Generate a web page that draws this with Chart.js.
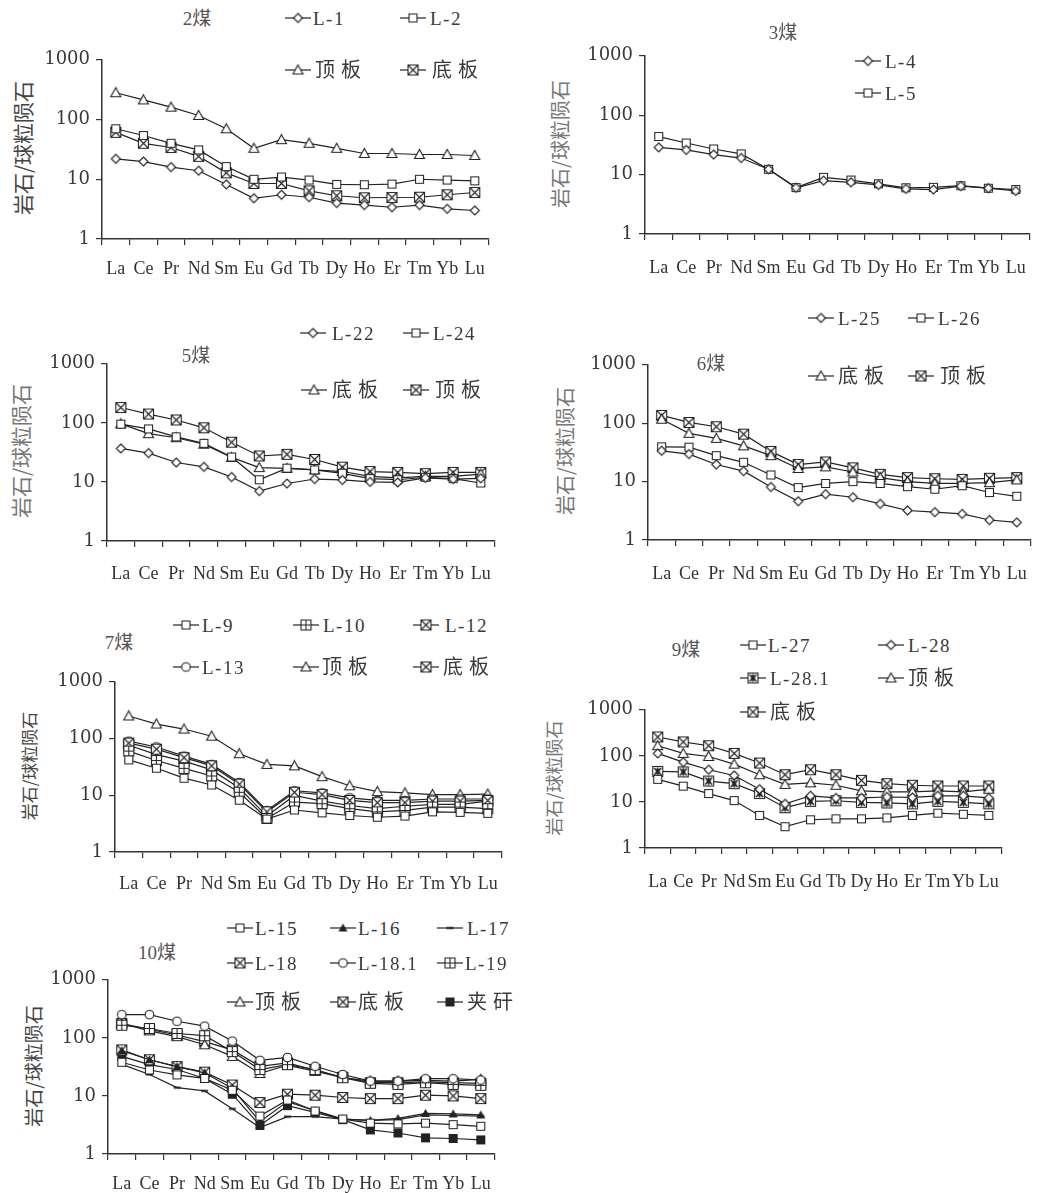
<!DOCTYPE html>
<html>
<head>
<meta charset="utf-8">
<script src="https://cdn.jsdelivr.net/npm/chart.js@4.4.1/dist/chart.umd.min.js"></script>
<style>
  body { margin: 0; background: #fff; }
  #fig { position: relative; width: 1043px; height: 1193px; overflow: hidden; }
  #fig canvas { position: absolute; }
  .t { position: absolute; white-space: nowrap; color: #3a3a3a; font-family: "Liberation Serif", "Noto Sans CJK SC", serif; line-height: 1; }
  .ytitle { position: absolute; white-space: nowrap; color: #555; font-family: "Noto Sans CJK SC", sans-serif; line-height: 1; transform: translate(-50%, -50%) rotate(-90deg); }
</style>
</head>
<body>
<div id="fig"></div>
<script>
const ree = ["La", "Ce", "Pr", "Nd", "Sm", "Eu", "Gd", "Tb", "Dy", "Ho", "Er", "Tm", "Yb", "Lu"];
const yTicks = [1, 10, 100, 1000];

// 2煤
const coal2_L1    = [22, 19.8, 16, 13.9, 8.2, 4.8, 5.5, 5.0, 4.0, 3.7, 3.4, 3.7, 3.2, 3.0];
const coal2_L2    = [70, 54, 40, 31, 16.3, 10, 10.9, 9.7, 8.2, 8.1, 8.3, 10, 9.7, 9.4];
const coal2_roof  = [281, 213, 161, 117, 70, 33, 46, 40, 33, 27, 27, 26, 26, 25];
const coal2_floor = [61, 40, 34, 24.2, 12.8, 8.5, 8.5, 6.4, 5.3, 4.9, 4.95, 5.0, 5.5, 6.0];
// 3煤
const coal3_L4 = [28.7, 26, 21.7, 19, 12.3, 6.0, 7.9, 7.4, 6.7, 5.75, 5.6, 6.4, 5.9, 5.3];
const coal3_L5 = [43.7, 34, 27, 22.3, 12.3, 6.05, 9.0, 8.1, 7.0, 6.0, 6.1, 6.5, 5.9, 5.6];
// 5煤
const coal5_L22   = [36.9, 30.8, 21.3, 18, 12.1, 7.0, 9.4, 11.2, 10.8, 10, 9.8, 11.7, 11.2, 11.5];
const coal5_L24   = [95, 79, 58, 45, 26.4, 10.9, 17.1, 16, 14, 11.4, 10.9, 12, 11.4, 9.6];
const coal5_floor = [96, 65.6, 56, 43.5, 26, 17.5, 17, 16, 15, 12.4, 11.7, 12.4, 12.4, 13.6];
const coal5_roof  = [182, 141, 112, 82.5, 47, 27.5, 29.3, 24, 17.8, 15, 14.5, 13.8, 14.5, 14.5];
// 6煤
const coal6_L25   = [33.7, 29.6, 19.6, 15.1, 8.1, 4.6, 6.1, 5.4, 4.15, 3.2, 3.0, 2.8, 2.2, 2.0];
const coal6_L26   = [39.4, 38.9, 27.8, 21.4, 13, 7.9, 9.3, 10, 9.3, 8.2, 7.4, 8.5, 6.5, 5.6];
const coal6_floor = [117, 67, 55, 41, 27.8, 16.8, 17.9, 14.6, 11.7, 10, 9.3, 9.3, 9.6, 10.7];
const coal6_roof  = [136, 103, 87, 65, 32.9, 19.6, 21.7, 17.2, 13.3, 11.7, 11.2, 10.9, 11.4, 11.7];
// 7煤
const coal7_L9    = [42, 30, 20, 15.2, 8.2, 3.8, 5.5, 4.9, 4.4, 4.1, 4.3, 5.1, 5.0, 4.8];
const coal7_L10   = [60, 41, 29.8, 21.9, 11.3, 3.9, 7.6, 7.1, 5.8, 5.1, 5.4, 6.2, 6.2, 5.8];
const coal7_L12   = [83, 65, 46, 33, 15.7, 5.1, 11.3, 10.3, 8.1, 7.4, 7.4, 7.9, 7.9, 8.1];
const coal7_L13   = [90, 71, 49, 35, 16.8, 5.4, 12, 11, 9, 8.1, 8.1, 8.6, 8.6, 8.6];
const coal7_roof  = [250, 180, 147, 110, 54, 35, 33, 21.3, 14.7, 11.6, 11, 10.3, 10.3, 10.5];
const coal7_floor = [76, 52, 40, 28, 13.4, 4.3, 9.9, 7.9, 6.6, 5.8, 6.4, 6.9, 6.9, 7.9];
// 9煤
const coal9_L27   = [30.9, 22, 15.2, 10.7, 5.1, 2.9, 4.1, 4.3, 4.3, 4.5, 5.1, 5.7, 5.4, 5.1];
const coal9_L28   = [113, 73, 50, 37.5, 18.9, 9.1, 13.6, 12.2, 12.2, 12.8, 12.5, 13.6, 13.6, 12.2];
const coal9_L281  = [46, 44.8, 28.4, 24.9, 15.2, 7.5, 10.3, 10.6, 9.8, 9.5, 9.1, 10.3, 9.8, 9.1];
const coal9_roof  = [166, 113, 97, 66, 39, 24, 26, 23, 17.4, 16.6, 16.6, 17.4, 16.6, 18.9];
const coal9_floor = [257, 201, 166, 113, 70, 39, 50, 39, 29.4, 24.9, 23, 22.2, 22.2, 22.2];
// 10煤
const coal10_L15   = [38, 28, 23, 20, 12.5, 4.5, 8.5, 5.5, 4.0, 3.4, 3.3, 3.4, 3.2, 3.0];
const coal10_L16   = [60, 42, 32, 25, 13.5, 3.6, 8.0, 5.6, 4.0, 3.8, 4.1, 5.0, 4.9, 4.7];
const coal10_L17   = [35, 23.4, 13.9, 12.2, 6.0, 2.85, 4.4, 4.4, 4.0, 3.8, 3.9, 4.7, 4.6, 4.5];
const coal10_L18   = [62, 42, 32, 25.7, 15.4, 7.7, 10.7, 10.3, 9.4, 9.0, 9.0, 10.3, 10, 9.0];
const coal10_L181  = [251, 251, 193, 159, 88, 41, 46, 32.4, 23.4, 18, 18, 19.8, 19.8, 18.8];
const coal10_L19   = [165, 145, 119, 109, 58, 28.5, 34.6, 28.5, 20.6, 16.5, 15.8, 16.9, 15.8, 15.2];
const coal10_roof  = [177, 132, 105, 76, 48, 24.4, 33.7, 26.7, 20.6, 18, 18, 18.5, 18, 19.3];
const coal10_floor = [177, 140, 112, 86, 62, 32.4, 37, 27.7, 21, 16.9, 16.9, 17.4, 16.9, 16.5];
const coal10_parting = [48, 34.7, 28.5, 20, 10.7, 3.1, 6.8, 5.2, 3.9, 2.6, 2.3, 1.9, 1.85, 1.75];

// marker images
function makeMarker(type) {
  const s = 13, m = 6.5;
  const c = document.createElement("canvas");
  c.width = s; c.height = s;
  const g = c.getContext("2d");
  g.lineWidth = 1.1; g.strokeStyle = "#222"; g.fillStyle = "#fff";
  const box = () => { g.beginPath(); g.rect(1.5, 1.5, 10, 10); g.fill(); g.stroke(); };
  if (type === "diamond") {
    g.beginPath(); g.moveTo(m, 2); g.lineTo(11, m); g.lineTo(m, 11); g.lineTo(2, m); g.closePath(); g.fill(); g.stroke();
  } else if (type === "square") {
    g.beginPath(); g.rect(2.5, 2.5, 8, 8); g.fill(); g.stroke();
  } else if (type === "triangle") {
    g.beginPath(); g.moveTo(m, 1.5); g.lineTo(11.5, 10.5); g.lineTo(1.5, 10.5); g.closePath(); g.fill(); g.stroke();
  } else if (type === "circle") {
    g.beginPath(); g.arc(m, m, 4.3, 0, Math.PI * 2); g.fill(); g.stroke();
  } else if (type === "boxX") {
    box(); g.beginPath(); g.moveTo(1.5, 1.5); g.lineTo(11.5, 11.5); g.moveTo(11.5, 1.5); g.lineTo(1.5, 11.5); g.stroke();
  } else if (type === "boxPlus") {
    box(); g.beginPath(); g.moveTo(m, 1.5); g.lineTo(m, 11.5); g.moveTo(1.5, m); g.lineTo(11.5, m); g.stroke();
  } else if (type === "boxStar") {
    box(); g.lineWidth = 1.6;
    g.beginPath(); g.moveTo(3, 3); g.lineTo(10, 10); g.moveTo(10, 3); g.lineTo(3, 10); g.moveTo(m, 2.5); g.lineTo(m, 10.5); g.stroke();
    g.fillStyle = "#222"; g.fillRect(4.5, 4.5, 4, 4);
  } else if (type === "fSquare") {
    g.fillStyle = "#222"; g.fillRect(2, 2, 9, 9);
  } else if (type === "fTriangle") {
    g.fillStyle = "#222"; g.beginPath(); g.moveTo(m, 2); g.lineTo(11, 10); g.lineTo(2, 10); g.closePath(); g.fill();
  } else if (type === "dash") {
    g.fillStyle = "#222"; g.fillRect(3, 5.5, 7, 2);
  }
  return c;
}
const markers = {};
["diamond", "square", "triangle", "circle", "boxX", "boxPlus", "boxStar", "fSquare", "fTriangle", "dash"]
  .forEach(t => markers[t] = makeMarker(t));

const panels = [
  { title: "2煤", tx: 197, ty: 18, X0: 102, X1: 492, Ytop: 57, Ybot: 239, lblOff: 29, ytX: 22, ytSize: 21, ytColor: "#444",
    series: [["L-1", coal2_L1, "diamond"], ["L-2", coal2_L2, "square"], ["顶板", coal2_roof, "triangle"], ["底板", coal2_floor, "boxX"]],
    legend: [[285, 18, 313], [400, 18, 430], [285, 70, 315], [400, 70, 432]] },
  { title: "3煤", tx: 783, ty: 32, X0: 645, X1: 1037, Ytop: 53, Ybot: 234, lblOff: 33, ytX: 560, ytSize: 20, ytColor: "#777",
    series: [["L-4", coal3_L4, "diamond"], ["L-5", coal3_L5, "square"]],
    legend: [[855, 61, 885], [855, 93, 885]] },
  { title: "5煤", tx: 196, ty: 355, X0: 107, X1: 501, Ytop: 361, Ybot: 541, lblOff: 32, ytX: 20, ytSize: 21, ytColor: "#777",
    series: [["L-22", coal5_L22, "diamond"], ["L-24", coal5_L24, "square"], ["底板", coal5_floor, "triangle"], ["顶板", coal5_roof, "boxX"]],
    legend: [[300, 333, 332], [403, 333, 433], [301, 390, 332], [403, 390, 435]] },
  { title: "6煤", tx: 711, ty: 363, X0: 648, X1: 1038, Ytop: 362, Ybot: 540, lblOff: 33, ytX: 565, ytSize: 20, ytColor: "#777",
    series: [["L-25", coal6_L25, "diamond"], ["L-26", coal6_L26, "square"], ["底板", coal6_floor, "triangle"], ["顶板", coal6_roof, "boxX"]],
    legend: [[808, 318, 838], [908, 318, 938], [808, 376, 838], [908, 376, 940]] },
  { title: "7煤", tx: 119, ty: 642, X0: 115, X1: 507, Ytop: 679, Ybot: 852, lblOff: 31, ytX: 28, ytSize: 17, ytColor: "#444",
    series: [["L-9", coal7_L9, "square"], ["L-10", coal7_L10, "boxPlus"], ["L-12", coal7_L12, "boxX"],
             ["L-13", coal7_L13, "circle"], ["顶板", coal7_roof, "triangle"], ["底板", coal7_floor, "boxX"]],
    legend: [[173, 625, 202], [293, 625, 323], [413, 625, 445], [173, 667, 202], [293, 667, 322], [413, 667, 443]] },
  { title: "9煤", tx: 686, ty: 649, X0: 645, X1: 1010, Ytop: 707, Ybot: 848, lblOff: 33, ytX: 553, ytSize: 18, ytColor: "#777",
    series: [["L-27", coal9_L27, "square"], ["L-28", coal9_L28, "diamond"], ["L-28.1", coal9_L281, "boxStar"],
             ["顶板", coal9_roof, "triangle"], ["底板", coal9_floor, "boxX"]],
    legend: [[740, 645, 768], [878, 645, 908], [740, 678, 770], [878, 678, 908], [740, 712, 770]] },
  { title: "10煤", tx: 157, ty: 952, X0: 108, X1: 498, Ytop: 977, Ybot: 1154, lblOff: 29, ytX: 32, ytSize: 19, ytColor: "#444",
    series: [["L-15", coal10_L15, "square"], ["L-16", coal10_L16, "fTriangle"], ["L-17", coal10_L17, "dash"],
             ["L-18", coal10_L18, "boxX"], ["L-18.1", coal10_L181, "circle"], ["L-19", coal10_L19, "boxPlus"],
             ["顶板", coal10_roof, "triangle"], ["底板", coal10_floor, "boxX"], ["夹矸", coal10_parting, "fSquare"]],
    legend: [[227, 928, 255], [330, 928, 358], [437, 928, 467], [227, 963, 255], [330, 963, 358], [437, 963, 465],
             [227, 1002, 255], [330, 1002, 358], [437, 1002, 467]] }
];

const fig = document.getElementById("fig");
function addText(txt, x, y, size, center, extra) {
  const d = document.createElement("div");
  d.className = "t";
  d.textContent = txt;
  d.style.left = x + "px";
  d.style.top = y + "px";
  d.style.fontSize = size + "px";
  d.style.transform = center ? "translate(-50%, -50%)" : "translate(0, -50%)";
  if (extra) Object.assign(d.style, extra);
  fig.appendChild(d);
}
function addLegendSymbol(type, x, y) {
  const c = document.createElement("canvas");
  c.width = 26; c.height = 14;
  c.style.left = x + "px"; c.style.top = (y - 7) + "px";
  const g = c.getContext("2d");
  g.strokeStyle = "#222"; g.lineWidth = 1.2;
  g.beginPath(); g.moveTo(0, 7); g.lineTo(26, 7); g.stroke();
  g.drawImage(markers[type], 13 - 6.5, 7 - 6.5);
  fig.appendChild(c);
}

const yW = 60, padTop = 14, xFont = 18, tickLen = 6;
panels.forEach(p => {
  const xH = p.lblOff + 14;
  const cv = document.createElement("canvas");
  const w = (p.X1 - p.X0) + yW + 6;
  const h = (p.Ybot - p.Ytop) + padTop + xH;
  cv.width = w; cv.height = h;
  cv.style.left = (p.X0 - yW) + "px";
  cv.style.top = (p.Ytop - padTop) + "px";
  fig.appendChild(cv);

  new Chart(cv, {
    type: "line",
    data: {
      labels: ree,
      datasets: p.series.map(s => ({
        label: s[0], data: s[1], pointStyle: markers[s[2]], pointRadius: 4,
        borderColor: "#222", borderWidth: 1.2, tension: 0, fill: false
      }))
    },
    options: {
      responsive: false, animation: false, devicePixelRatio: 1,
      layout: { padding: { top: padTop, right: 6, left: 0, bottom: 0 } },
      plugins: { legend: { display: false }, tooltip: { enabled: false } },
      scales: {
        x: {
          type: "category", offset: true,
          grid: { offset: true, drawOnChartArea: false, tickLength: tickLen, color: "#333", lineWidth: 1.2 },
          border: { color: "#333", width: 1.5 },
          ticks: { autoSkip: false, maxRotation: 0, color: "#333", padding: Math.round(p.lblOff - tickLen - xFont * 0.55),
                   font: { family: "Liberation Serif", size: xFont } },
          afterFit: s => { s.height = xH; }
        },
        y: {
          type: "logarithmic", min: 1, max: 1000,
          grid: { drawOnChartArea: false, tickLength: tickLen, color: "#333", lineWidth: 1.2 },
          border: { color: "#333", width: 1.5 },
          ticks: { autoSkip: false, color: "#3a3a3a", padding: 6, font: { family: "DejaVu Serif", size: 18 },
                   callback: v => String(v) },
          afterBuildTicks: s => { s.ticks = yTicks.map(v => ({ value: v })); },
          afterFit: s => { s.width = yW; }
        }
      }
    }
  });

  addText(p.title, p.tx, p.ty, 19, true, { color: "#555" });
  const yt = document.createElement("div");
  yt.className = "ytitle";
  yt.textContent = "岩石/球粒陨石";
  yt.style.left = p.ytX + "px";
  yt.style.top = ((p.Ytop + p.Ybot) / 2) + "px";
  yt.style.fontSize = p.ytSize + "px";
  yt.style.color = p.ytColor;
  fig.appendChild(yt);

  p.series.forEach((s, i) => {
    const L = p.legend[i];
    addLegendSymbol(s[2], L[0], L[1]);
    const cjk = /[\u4e00-\u9fff]/.test(s[0]);
    addText(s[0], L[2], L[1], cjk ? 20 : 19, false, { letterSpacing: cjk ? "6px" : "1.5px" });
  });
});
</script>
</body>
</html>
